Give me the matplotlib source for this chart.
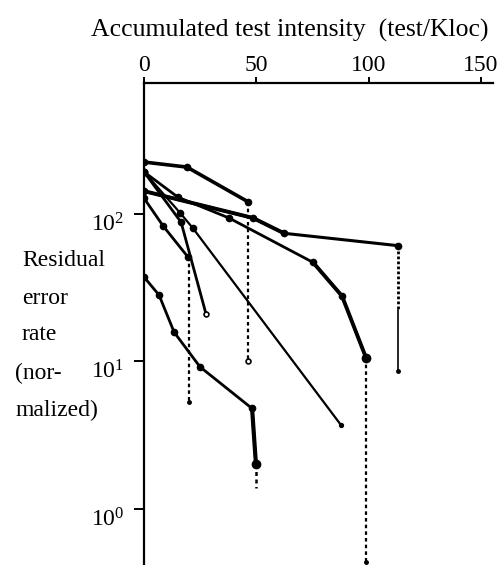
import matplotlib
matplotlib.use("Agg")
import matplotlib.pyplot as plt
import matplotlib.transforms as mtransforms

plt.rcParams['font.family'] = ['Liberation Serif', 'DejaVu Serif']
plt.rcParams['mathtext.fontset'] = 'custom'
plt.rcParams['mathtext.rm'] = 'Liberation Serif'

# ---- data (accumulated test intensity, residual error rate) ----
s1_x = [0, 19.1, 46.3]
s1_y = [225, 208, 121]
s1_drop = [121, 10.1]

sa_x = [0, 48.5, 62.3, 113.0]
sa_y = [143, 94, 74, 61]
sa_wavy = [61, 22.3]
sa_tail = [22.3, 8.6]

sb_x = [0, 15.1, 37.8, 75.2, 88.1, 98.8]
sb_y = [193, 130, 94, 47, 27.8, 10.6]
sb_drop = [10.6, 0.44]

s3_x = [0, 8.5, 19.6]
s3_y = [128, 83, 51]
s3_drop = [51, 5.3]

sc_x = [0, 16.0, 21.8, 87.7]
sc_y = [193, 102, 80, 3.7]

sd_x = [0, 16.5, 27.6]
sd_y = [193, 88, 21]

s5_x = [0, 6.7, 13.4, 24.9, 48.1, 49.8]
s5_y = [37.4, 28.2, 15.8, 9.2, 4.8, 2.02]
s5_drop = [2.02, 1.39]

x_ticks = [0, 50, 100, 150]
y_ticks = [1, 10, 100]
y_labels = [r'$\mathregular{10^{0}}$', r'$\mathregular{10^{1}}$', r'$\mathregular{10^{2}}$']

fig = plt.figure(figsize=(4.99, 5.65), dpi=100)
ax = fig.add_axes([144 / 499, 0, 349 / 499, (565 - 83) / 565])
ax.set_yscale('log')
ax.set_xlim(0, 155.3)
ax.set_ylim(0.417, 773)

k = 'black'
dot = dict(marker='o', markersize=4.5, color=k, markerfacecolor=k)
dash = (0, (1.6, 1.4))

# series 1
ax.plot(s1_x, s1_y, lw=2.6, **dot)
ax.plot([s1_x[-1]] * 2, s1_drop, color=k, lw=1.6, ls=dash)
ax.plot([s1_x[-1]], [s1_drop[-1]], marker='o', ms=3.5, mfc='white', mec=k, mew=1.2)

# series a
ax.plot(sa_x, sa_y, lw=2.2, **dot)
ax.plot(sa_x[:3], sa_y[:3], lw=2.8, color=k)
ax.plot([sa_x[-1]] * 2, sa_wavy, color=k, lw=2.0, ls=(0, (1, 0.8)))
ax.plot([sa_x[-1]] * 2, sa_tail, color=k, lw=1.2)
ax.plot([sa_x[-1]], [sa_tail[-1]], marker='o', ms=2.5, color=k)

# series b
ax.plot(sb_x, sb_y, lw=2.0, **dot)
ax.plot(sb_x[-3:], sb_y[-3:], lw=2.8, color=k)
ax.plot([sb_x[-1]], [sb_y[-1]], marker='o', ms=6, color=k)
ax.plot([sb_x[-1]] * 2, sb_drop, color=k, lw=1.6, ls=dash)
ax.plot([sb_x[-1]], [sb_drop[-1]], marker='o', ms=2.5, color=k)

# series 3
ax.plot(s3_x, s3_y, lw=2.0, **dot)
ax.plot([s3_x[-1] + 0.3] * 2, s3_drop, color=k, lw=1.6, ls=dash)
ax.plot([s3_x[-1] + 0.3], [s3_drop[-1]], marker='o', ms=2.5, color=k)

# series c
ax.plot(sc_x, sc_y, lw=1.6, color=k)
ax.plot(sc_x[:3], sc_y[:3], ls='none', **dot)
ax.plot([sc_x[-1]], [sc_y[-1]], marker='o', ms=2.8, color=k)

# series d
ax.plot(sd_x, sd_y, lw=2.0, color=k)
ax.plot(sd_x[:2], sd_y[:2], ls='none', **dot)
ax.plot([sd_x[-1]], [sd_y[-1]], marker='o', ms=3.5, mfc='white', mec=k, mew=1.2)

# series 5
ax.plot(s5_x, s5_y, lw=2.0, **dot)
ax.plot(s5_x[-2:], s5_y[-2:], lw=3.0, color=k)
ax.plot([s5_x[-1]], [s5_y[-1]], marker='o', ms=6, color=k)
ax.plot([s5_x[-1]] * 2, s5_drop, color=k, lw=1.8, ls=dash)

# axes styling
for side in ['right', 'bottom']:
    ax.spines[side].set_visible(False)
for side in ['top', 'left']:
    ax.spines[side].set_linewidth(1.6)
ax.xaxis.tick_top()
ax.set_xticks(x_ticks)
ax.set_xticklabels([str(v) for v in x_ticks], fontsize=17)
ax.tick_params(axis='x', direction='out', length=4, width=1.4, pad=1)
ax.set_yticks(y_ticks)
ax.set_yticklabels(y_labels, fontsize=17)
ax.yaxis.set_minor_locator(matplotlib.ticker.NullLocator())
ax.tick_params(axis='y', direction='out', length=7, width=1.4, pad=7)
off = mtransforms.ScaledTranslation(0, -8 / 100, fig.dpi_scale_trans)
for lab in ax.get_yticklabels():
    lab.set_transform(lab.get_transform() + off)

fig.text(290 / 499, 1 - 30 / 565, 'Accumulated test intensity  (test/Kloc)',
         ha='center', va='center', fontsize=18.5)

ylab_lines = [('Residual', 22, 260), ('error', 22, 298), ('rate', 22, 335),
              ('(nor-', 15, 373), ('malized)', 15, 410)]
for txt, px, py in ylab_lines:
    fig.text(px / 499, 1 - py / 565, txt, ha='left', va='center', fontsize=17)

fig.savefig('out.png', dpi=100)
